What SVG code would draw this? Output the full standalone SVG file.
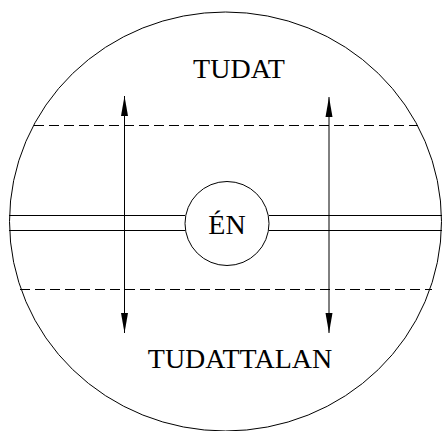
<svg xmlns="http://www.w3.org/2000/svg" width="442" height="431" viewBox="0 0 442 431">
<style>
.ln{fill:none;stroke:#000;stroke-width:1}
.dash{fill:none;stroke:#000;stroke-width:1;stroke-dasharray:10 5}
.tx{font-family:"Liberation Serif","Times New Roman",serif;font-size:28px;fill:#000;text-anchor:middle}
</style>
<defs>
<marker id="ah" viewBox="0 0 20 8" refX="20" refY="4" markerWidth="20" markerHeight="8" markerUnits="userSpaceOnUse" orient="auto-start-reverse">
<path d="M0,0.5 L20,4 L0,7.5 Z" fill="#000"/>
</marker>
</defs>
<rect width="442" height="431" fill="#fff"/>
<g id="psyche">
<ellipse class="ln" cx="225.5" cy="221.5" rx="216" ry="209.5"/>
</g>
<g id="boundaries">
<line class="dash" x1="34" y1="125.5" x2="418" y2="125.5"/>
<line class="dash" x1="20" y1="289.5" x2="432" y2="289.5"/>
</g>
<g id="connectors">
<line class="ln" x1="9" y1="215.5" x2="185" y2="215.5"/>
<line class="ln" x1="9" y1="230.5" x2="185" y2="230.5"/>
<line class="ln" x1="269" y1="215.5" x2="442" y2="215.5"/>
<line class="ln" x1="269" y1="230.5" x2="442" y2="230.5"/>
<line class="ln" x1="124.5" y1="96" x2="124.5" y2="333" marker-start="url(#ah)" marker-end="url(#ah)"/>
<line class="ln" x1="329" y1="97" x2="329" y2="333" marker-start="url(#ah)" marker-end="url(#ah)"/>
</g>
<g id="tudat">
<text class="tx" x="239" y="78">TUDAT</text>
</g>
<g id="en">
<circle class="ln" cx="227" cy="223.5" r="42"/>
<text class="tx" x="227" y="234">ÉN</text>
</g>
<g id="tudattalan">
<text class="tx" x="240" y="368">TUDATTALAN</text>
</g>
</svg>
